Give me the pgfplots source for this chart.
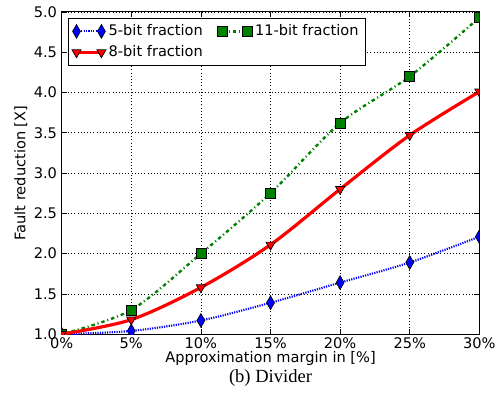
\documentclass[border=0pt]{standalone}
\usepackage{fontspec}
\setmainfont{DejaVu Sans}
\newfontfamily\capfont{Liberation Serif}
\usepackage{pgfplots}
\pgfplotsset{compat=1.18}
\definecolor{mgreen}{rgb}{0,0.5,0}
\begin{document}
\begin{tikzpicture}
\begin{axis}[
  scale only axis,
  width=315pt, height=243pt,
  xmin=0, xmax=30, ymin=1, ymax=5,
  xtick={0,5,10,15,20,25,30},
  ytick={1,1.5,2,2.5,3,3.5,4,4.5,5},
  xticklabel={\pgfmathprintnumber{\tick}\%},
  yticklabel style={/pgf/number format/fixed,/pgf/number format/fixed zerofill,/pgf/number format/precision=1},
  /pgf/number format/assume math mode=true,
  tick label style={font=\fontsize{11}{13}\selectfont},
  xticklabel style={yshift=1pt},
  label style={font=\fontsize{11}{13}\selectfont},
  tick align=inside,
  tick pos=both,
  major tick length=4pt,
  tick style={black, line width=0.5pt},
  grid=major,
  grid style={black, dotted, line width=0.5pt},
  axis line style={line width=0.8pt},
  xlabel={Approximation margin in [\%]},
  ylabel={Fault reduction [X]},
  xlabel style={yshift=5pt},
  ylabel style={yshift=-2pt},
  clip marker paths=true,
  legend columns=2,
  legend style={at={(0,1)}, anchor=north west, xshift=4.5pt, yshift=-4.5pt,
    draw=black, line width=0.5pt, font=\fontsize{11}{13}\selectfont,
    /tikz/every even column/.append style={column sep=9pt},
    row sep=2pt, inner xsep=3pt, inner ysep=3pt},
  legend image code/.code={\draw[mark repeat=2,mark phase=1,#1] plot coordinates {(0cm,0cm) (0.33cm,0cm) (0.66cm,0cm)};},
]
\addplot[blue, line width=1.6pt, dash pattern=on 0.9pt off 0.9pt, smooth,
  mark=diamond*, mark size=5.2pt, mark options={solid, fill=blue, draw=black, line width=0.5pt, xscale=0.76}]
  coordinates {(0,1.0) (5,1.04) (10,1.17) (15,1.39) (20,1.64) (25,1.89) (30,2.21)};
\addlegendentry{5-bit fraction}
\addplot[mgreen, line width=1.8pt, dash pattern=on 2.6pt off 2.2pt on 0.8pt off 2.2pt, smooth,
  mark=square*, mark size=3.75pt, mark options={solid, fill=mgreen, draw=black, line width=0.5pt}]
  coordinates {(0,1.0) (5,1.30) (10,2.0) (15,2.75) (20,3.62) (25,4.2) (30,4.93)};
\addlegendentry{11-bit fraction}
\addplot[red, line width=2.4pt, smooth,
  mark=triangle*, mark size=4pt, mark options={solid, fill=red, draw=black, line width=0.5pt, rotate=180}]
  coordinates {(0,1.0) (5,1.18) (10,1.58) (15,2.11) (20,2.80) (25,3.47) (30,4.01)};
\addlegendentry{8-bit fraction}
\end{axis}
\node[font=\capfont\fontsize{14}{16}\selectfont, anchor=center] at ([yshift=-33pt]current axis.south) {(b) Divider};
\useasboundingbox ([xshift=-46.5pt, yshift=-47.25pt]current axis.south west) rectangle ([xshift=13.5pt, yshift=9pt]current axis.north east);
\end{tikzpicture}
\end{document}
